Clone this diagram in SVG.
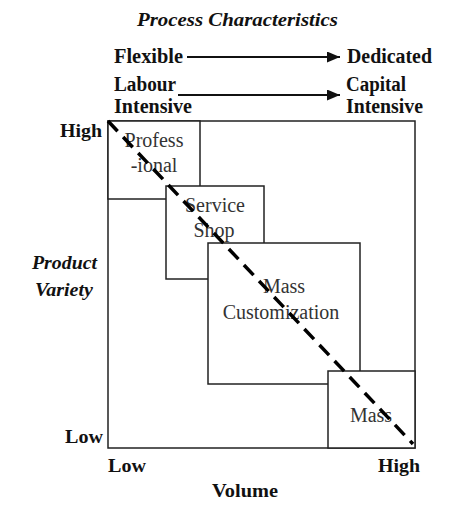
<svg xmlns="http://www.w3.org/2000/svg" width="474" height="513" viewBox="0 0 474 513">
<style>
.box{fill:#fff;stroke:#222;stroke-width:1.5}
.lbl{font-family:"Liberation Serif","Times New Roman",serif;font-weight:bold;fill:#111}
.ital{font-family:"Liberation Serif","Times New Roman",serif;font-weight:bold;font-style:italic;fill:#111}
.node{font-family:"Liberation Serif","Times New Roman",serif;font-size:20px;fill:#333;text-anchor:middle}
.arr{stroke:#111;stroke-width:2.2;fill:none}
</style>
<defs>
<marker id="ah" markerUnits="userSpaceOnUse" markerWidth="14" markerHeight="11" refX="13" refY="5.5" orient="auto">
<path d="M0,0 L13,5.5 L0,11 Z" fill="#111"/>
</marker>
</defs>
<rect width="474" height="513" fill="#fff"/>
<text class="ital" x="137" y="26" font-size="18.5" textLength="201" lengthAdjust="spacingAndGlyphs">Process Characteristics</text>
<text class="lbl" x="114" y="63" font-size="20" textLength="69" lengthAdjust="spacingAndGlyphs">Flexible</text>
<text class="lbl" x="347" y="63" font-size="20" textLength="85" lengthAdjust="spacingAndGlyphs">Dedicated</text>
<text class="lbl" x="114" y="91" font-size="20" textLength="62" lengthAdjust="spacingAndGlyphs">Labour</text>
<text class="lbl" x="114" y="113" font-size="20" textLength="78" lengthAdjust="spacingAndGlyphs">Intensive</text>
<text class="lbl" x="346" y="91" font-size="20" textLength="60" lengthAdjust="spacingAndGlyphs">Capital</text>
<text class="lbl" x="346" y="113" font-size="20" textLength="77" lengthAdjust="spacingAndGlyphs">Intensive</text>
<text class="lbl" x="60" y="137" font-size="19" textLength="42" lengthAdjust="spacingAndGlyphs">High</text>
<text class="ital" x="32" y="269" font-size="19" textLength="65" lengthAdjust="spacingAndGlyphs">Product</text>
<text class="ital" x="35" y="296" font-size="19" textLength="58" lengthAdjust="spacingAndGlyphs">Variety</text>
<text class="lbl" x="65" y="443" font-size="19" textLength="38" lengthAdjust="spacingAndGlyphs">Low</text>
<text class="lbl" x="108" y="472" font-size="19" textLength="38" lengthAdjust="spacingAndGlyphs">Low</text>
<text class="lbl" x="378" y="472" font-size="19" textLength="42" lengthAdjust="spacingAndGlyphs">High</text>
<text class="lbl" x="212" y="497" font-size="19" textLength="66" lengthAdjust="spacingAndGlyphs">Volume</text>
<g id="connectors">
<line class="arr" x1="187" y1="57" x2="340" y2="57" marker-end="url(#ah)"/>
<line class="arr" x1="178" y1="95" x2="340" y2="95" marker-end="url(#ah)"/>
</g>
<g id="frame"><rect class="box" x="108" y="121" width="307" height="327"/></g>
<g id="professional">
<rect class="box" x="108" y="121" width="92" height="78"/>
<text class="node" x="154" y="147">Profess</text>
<text class="node" x="154" y="172">-ional</text>
</g>
<g id="service-shop">
<rect class="box" x="166" y="186" width="98" height="93"/>
<text class="node" x="215" y="212">Service</text>
<text class="node" x="214" y="237">Shop</text>
</g>
<g id="mass-customization">
<rect class="box" x="208" y="243" width="152" height="141"/>
<text class="node" x="284" y="293">Mass</text>
<text class="node" x="281" y="319">Customization</text>
</g>
<g id="mass">
<rect class="box" x="328" y="371" width="87" height="77"/>
<text class="node" x="371" y="422">Mass</text>
</g>
<g id="diagonal">
<line x1="108" y1="121" x2="413" y2="444" stroke="#000" stroke-width="3.5" stroke-dasharray="14 8"/>
</g>
</svg>
